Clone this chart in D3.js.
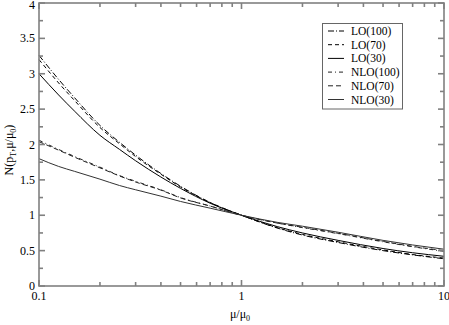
<!DOCTYPE html>
<html><head><meta charset="utf-8">
<script src="https://cdn.jsdelivr.net/npm/d3@7"></script>
<style>body{margin:0;background:#fff}svg{display:block}text{font-family:"Liberation Serif","Times New Roman",serif;fill:#000}</style>
</head><body>
<script>
const mu = [0.1,0.125,0.15,0.2,0.25,0.3,0.4,0.5,0.7,1,1.5,2,3,5,7,10];
const LO100  = [3.26,2.92,2.66,2.27,2.03,1.85,1.59,1.41,1.18,1.00,0.82,0.72,0.615,0.50,0.44,0.385];
const LO70   = [3.20,2.87,2.62,2.24,2.01,1.83,1.58,1.40,1.18,1.00,0.825,0.73,0.625,0.51,0.445,0.395];
const LO30   = [3.00,2.70,2.47,2.13,1.93,1.77,1.54,1.38,1.17,1.00,0.84,0.75,0.645,0.53,0.47,0.42];
const NLO100 = [2.06,1.93,1.83,1.68,1.56,1.48,1.36,1.25,1.13,1.00,0.89,0.825,0.74,0.625,0.555,0.49];
const NLO70  = [2.04,1.92,1.82,1.67,1.555,1.47,1.355,1.245,1.13,1.00,0.89,0.83,0.745,0.63,0.56,0.50];
const NLO30  = [1.80,1.69,1.62,1.51,1.42,1.36,1.27,1.195,1.10,1.00,0.90,0.845,0.76,0.645,0.58,0.52];
const seriesNames = ["LO(100)","LO(70)","LO(30)","NLO(100)","NLO(70)","NLO(30)"];
const seriesData = [LO100,LO70,LO30,NLO100,NLO70,NLO30];
const dashes = ["6,2,1,2","4,3",null,"4,3,1,3","5,3",null];
const colors = ["#000","#000","#000","#222","#222","#333"];
const yTicks = [0,0.5,1,1.5,2,2.5,3,3.5,4];
const yTickLabels = ["0","0.5","1","1.5","2","2.5","3","3.5","4"];
const xMajor = [0.1,1,10];
const xMajorLabels = ["0.1","1","10"];

const W=449,H=325;
const svg=d3.select("body").append("svg").attr("width",W).attr("height",H);
const x=d3.scaleLog().domain([0.1,10]).range([39,444]);
const y=d3.scaleLinear().domain([0,4]).range([286,3]);
const x0=x.range()[0],x1=x.range()[1],y0=y.range()[0],y1=y.range()[1];

const line=d3.line().x(d=>x(d[0])).y(d=>y(d[1])).curve(d3.curveMonotoneX);
seriesData.forEach((s,i)=>{
  svg.append("path").attr("d",line(mu.map((m,j)=>[m,s[j]])))
    .attr("fill","none").attr("stroke",colors[i]).attr("stroke-width",1)
    .attr("stroke-dasharray",dashes[i]);
});

const ax=svg.append("g").attr("stroke","#808080").attr("stroke-width",1.6).attr("fill","none");
ax.append("rect").attr("x",x0).attr("y",y1).attr("width",x1-x0).attr("height",y0-y1);

const xMinor=[];
[0.1,1].forEach(d=>{for(let k=2;k<=9;k++)xMinor.push(d*k);});
xMinor.forEach(v=>{
  ax.append("line").attr("x1",x(v)).attr("x2",x(v)).attr("y1",y0).attr("y2",y0-4);
  ax.append("line").attr("x1",x(v)).attr("x2",x(v)).attr("y1",y1).attr("y2",y1+4);
});
xMajor.forEach(v=>{
  ax.append("line").attr("x1",x(v)).attr("x2",x(v)).attr("y1",y0).attr("y2",y0-6);
  ax.append("line").attr("x1",x(v)).attr("x2",x(v)).attr("y1",y1).attr("y2",y1+6);
});
d3.range(0,4.01,0.25).forEach(v=>{
  const major=Math.abs(v*2-Math.round(v*2))<1e-6;
  const L=major?6:4;
  ax.append("line").attr("x1",x0).attr("x2",x0+L).attr("y1",y(v)).attr("y2",y(v));
  ax.append("line").attr("x1",x1).attr("x2",x1-L).attr("y1",y(v)).attr("y2",y(v));
});

yTicks.forEach((v,i)=>{
  svg.append("text").attr("x",35).attr("y",Math.max(y(v)+4,9)).attr("text-anchor","end")
    .attr("font-size",12).text(yTickLabels[i]);
});
xMajor.forEach((v,i)=>{
  svg.append("text").attr("x",x(v)).attr("y",300).attr("text-anchor","middle")
    .attr("font-size",12).text(xMajorLabels[i]);
});

const xt=svg.append("text").attr("x",240).attr("y",318).attr("text-anchor","middle").attr("font-size",12);
xt.append("tspan").text("μ/μ");
xt.append("tspan").attr("font-size",8).attr("dy",3).text("0");

const yt=svg.append("text").attr("transform","translate(13,150) rotate(-90)").attr("text-anchor","middle").attr("font-size",12);
yt.append("tspan").text("N(p");
yt.append("tspan").attr("font-size",8).attr("dy",3).text("T");
yt.append("tspan").attr("dy",-3).text(",μ/μ");
yt.append("tspan").attr("font-size",8).attr("dy",3).text("0");
yt.append("tspan").attr("dy",-3).text(")");

const lg=svg.append("g");
lg.append("rect").attr("x",322.5).attr("y",23.5).attr("width",80).attr("height",85.5)
  .attr("fill","#fff").attr("stroke","#666").attr("stroke-width",1);
seriesNames.forEach((n,i)=>{
  const yy=31+i*13.7;
  lg.append("line").attr("x1",328).attr("x2",344).attr("y1",yy).attr("y2",yy)
    .attr("stroke",colors[i]).attr("stroke-width",1).attr("stroke-dasharray",dashes[i]);
  lg.append("text").attr("x",351).attr("y",yy+4).attr("font-size",11.5).text(n);
});
</script>
</body></html>
